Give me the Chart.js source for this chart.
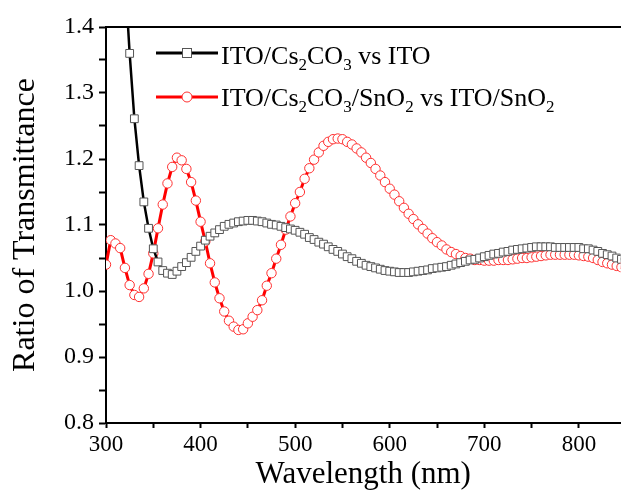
<!DOCTYPE html>
<html>
<head>
<meta charset="utf-8">
<script src="https://cdn.jsdelivr.net/npm/chart.js@4/dist/chart.umd.min.js"></script>
<style>
    body { margin: 0; background: #fff; }
    #wrap { position: relative; width: 627px; height: 494px; overflow: hidden; background: #fff; }
    .leg { position: absolute; font-family: 'Liberation Serif', serif; font-size: 26px; line-height: 26px; color: #000; white-space: nowrap; }
    .leg sub { font-size: 17px; vertical-align: -6px; line-height: 0; }
    .mark { position: absolute; }
</style>
</head>
<body>
<div id="wrap">
    <canvas id="myChart" width="627" height="494"></canvas>
    <!-- legend (html so the subscripts stay real text) -->
    <svg class="mark" style="left:155px; top:45px;" width="64" height="16">
        <line x1="1" y1="8" x2="63" y2="8" stroke="#000" stroke-width="3" />
        <rect x="27.5" y="3.5" width="9" height="9" fill="#fff" stroke="#555" stroke-width="1" />
    </svg>
    <div class="leg" style="left:221px; top:43px;">ITO/Cs<sub>2</sub>CO<sub>3</sub> vs ITO</div>
    <svg class="mark" style="left:155px; top:89px;" width="64" height="16">
        <line x1="1" y1="8" x2="63" y2="8" stroke="#ff0000" stroke-width="3" />
        <circle cx="32" cy="8" r="5" fill="#fff" stroke="#ff3030" stroke-width="1" />
    </svg>
    <div class="leg" style="left:221px; top:85px;">ITO/Cs<sub>2</sub>CO<sub>3</sub>/SnO<sub>2</sub> vs ITO/SnO<sub>2</sub></div>
</div>
<script>
// wavelength (nm), one value every 5 nm
let wavelength = [300, 305, 310, 315, 320, 325, 330, 335, 340, 345, 350, 355, 360, 365, 370, 375, 380, 385, 390, 395,
    400, 405, 410, 415, 420, 425, 430, 435, 440, 445, 450, 455, 460, 465, 470, 475, 480, 485, 490, 495,
    500, 505, 510, 515, 520, 525, 530, 535, 540, 545, 550, 555, 560, 565, 570, 575, 580, 585, 590, 595,
    600, 605, 610, 615, 620, 625, 630, 635, 640, 645, 650, 655, 660, 665, 670, 675, 680, 685, 690, 695,
    700, 705, 710, 715, 720, 725, 730, 735, 740, 745, 750, 755, 760, 765, 770, 775, 780, 785, 790, 795,
    800, 805, 810, 815, 820, 825, 830, 835, 840, 845];

// ITO/Cs2CO3 vs ITO (off the top of the plot below 320 nm)
let ratioCs = [null, null, null, null, 1.48, 1.360, 1.261, 1.190, 1.135, 1.095, 1.064, 1.044, 1.031, 1.027, 1.025, 1.030, 1.037, 1.043, 1.051, 1.060,
    1.068, 1.077, 1.083, 1.088, 1.093, 1.098, 1.101, 1.103, 1.105, 1.106, 1.107, 1.107, 1.106, 1.105, 1.103, 1.101, 1.100, 1.098, 1.096, 1.094,
    1.092, 1.089, 1.086, 1.081, 1.078, 1.074, 1.071, 1.067, 1.063, 1.060, 1.056, 1.052, 1.049, 1.045, 1.042, 1.039, 1.037, 1.035, 1.033, 1.031,
    1.030, 1.029, 1.028, 1.028, 1.028, 1.029, 1.030, 1.031, 1.032, 1.034, 1.035, 1.036, 1.037, 1.039, 1.041, 1.043, 1.045, 1.047, 1.048, 1.050,
    1.052, 1.054, 1.056, 1.057, 1.059, 1.060, 1.062, 1.063, 1.064, 1.065, 1.066, 1.067, 1.067, 1.067, 1.067, 1.066, 1.066, 1.066, 1.066, 1.066,
    1.066, 1.064, 1.064, 1.062, 1.060, 1.057, 1.055, 1.053, 1.050, 1.048];

// ITO/Cs2CO3/SnO2 vs ITO/SnO2
let ratioSnO2 = [1.040, 1.077, 1.072, 1.065, 1.035, 1.009, 0.994, 0.991, 1.004, 1.026, 1.057, 1.095, 1.131, 1.163, 1.188, 1.202, 1.198, 1.185, 1.165, 1.137,
    1.105, 1.075, 1.042, 1.013, 0.989, 0.969, 0.955, 0.946, 0.941, 0.942, 0.951, 0.961, 0.971, 0.986, 1.008, 1.027, 1.049, 1.070, 1.093, 1.113,
    1.133, 1.150, 1.170, 1.186, 1.199, 1.210, 1.220, 1.226, 1.230, 1.231, 1.230, 1.226, 1.222, 1.216, 1.210, 1.202, 1.194, 1.185, 1.175, 1.165,
    1.155, 1.146, 1.136, 1.126, 1.117, 1.109, 1.101, 1.094, 1.087, 1.080, 1.074, 1.069, 1.063, 1.059, 1.056, 1.053, 1.050, 1.049, 1.047, 1.047,
    1.046, 1.046, 1.046, 1.047, 1.047, 1.047, 1.048, 1.049, 1.050, 1.050, 1.051, 1.052, 1.053, 1.054, 1.055, 1.055, 1.055, 1.055, 1.055, 1.055,
    1.054, 1.053, 1.052, 1.050, 1.047, 1.044, 1.042, 1.040, 1.038, 1.036];

// tick positions (labels only on the major ones)
let xTicks = [300, 350, 400, 450, 500, 550, 600, 650, 700, 750, 800];
let yTicks = [0.8, 0.85, 0.9, 0.95, 1.0, 1.05, 1.1, 1.15, 1.2, 1.25, 1.3, 1.35, 1.4];

function toPoints(xs, ys) {
    let pts = [];
    for (let i = 0; i < xs.length; i++) {
        if (ys[i] !== null) pts.push({ x: xs[i], y: ys[i] });
    }
    return pts;
}

let serif = 'Liberation Serif';

let data = {
    datasets: [
        {
            label: 'ITO/Cs2CO3 vs ITO',
            data: toPoints(wavelength, ratioCs),
            borderColor: '#000',
            borderWidth: 2.5,
            pointStyle: 'rect',
            pointRadius: 5.5,
            pointBorderWidth: 1,
            pointBorderColor: '#555',
            pointBackgroundColor: '#fff',
            tension: 0
        },
        {
            label: 'ITO/Cs2CO3/SnO2 vs ITO/SnO2',
            data: toPoints(wavelength, ratioSnO2),
            borderColor: '#ff0000',
            borderWidth: 3,
            pointStyle: 'circle',
            pointRadius: 4.7,
            pointBorderWidth: 1,
            pointBorderColor: '#ff3030',
            pointBackgroundColor: '#fff',
            tension: 0
        }
    ]
};

let options = {
    responsive: false,
    animation: false,
    devicePixelRatio: 1,
    layout: { padding: { top: 27, left: 0, right: 0, bottom: 0 } },
    plugins: {
        legend: { display: false },
        tooltip: { enabled: false }
    },
    scales: {
        x: {
            type: 'linear',
            position: 'bottom',
            min: 300,
            max: 844,
            afterBuildTicks: function (scale) { scale.ticks = xTicks.map(v => ({ value: v })); },
            afterFit: function (scale) { scale.height = 71; },
            ticks: {
                autoSkip: false,
                maxRotation: 0,
                color: '#000',
                padding: 3,
                font: { family: serif, size: 23 },
                callback: function (v) { return v % 100 === 0 ? String(v) : ''; }
            },
            grid: { drawOnChartArea: false, drawTicks: true, tickLength: 5, tickColor: '#000', tickWidth: 2 },
            border: { display: true, color: '#000', width: 2 },
            title: {
                display: true,
                text: 'Wavelength (nm)',
                color: '#000',
                font: { family: serif, size: 31, lineHeight: 1 },
                padding: { top: 0, bottom: 4 }
            }
        },
        xTop: {
            type: 'linear',
            position: 'top',
            min: 300,
            max: 844,
            afterFit: function (scale) { scale.height = 0; },
            ticks: { display: false },
            grid: { drawOnChartArea: false, drawTicks: false },
            border: { display: true, color: '#000', width: 2 }
        },
        y: {
            type: 'linear',
            position: 'left',
            min: 0.8,
            max: 1.4,
            afterBuildTicks: function (scale) { scale.ticks = yTicks.map(v => ({ value: v })); },
            afterFit: function (scale) { scale.width = 106; },
            ticks: {
                autoSkip: false,
                color: '#000',
                padding: 5,
                font: { family: serif, size: 24 },
                callback: function (v) { return Math.round(v * 100) % 10 === 0 ? v.toFixed(1) : ''; }
            },
            grid: { drawOnChartArea: false, drawTicks: true, tickLength: 7, tickColor: '#000', tickWidth: 2 },
            border: { display: true, color: '#000', width: 2 },
            title: {
                display: true,
                text: 'Ratio of Transmittance',
                color: '#000',
                font: { family: serif, size: 32, lineHeight: 1 },
                padding: { top: 10, bottom: 0 }
            }
        }
    }
};

let ctx = document.getElementById('myChart').getContext('2d');
let myLineChart = new Chart(ctx, {
    type: 'line',
    data: data,
    options: options
});
</script>
</body>
</html>
